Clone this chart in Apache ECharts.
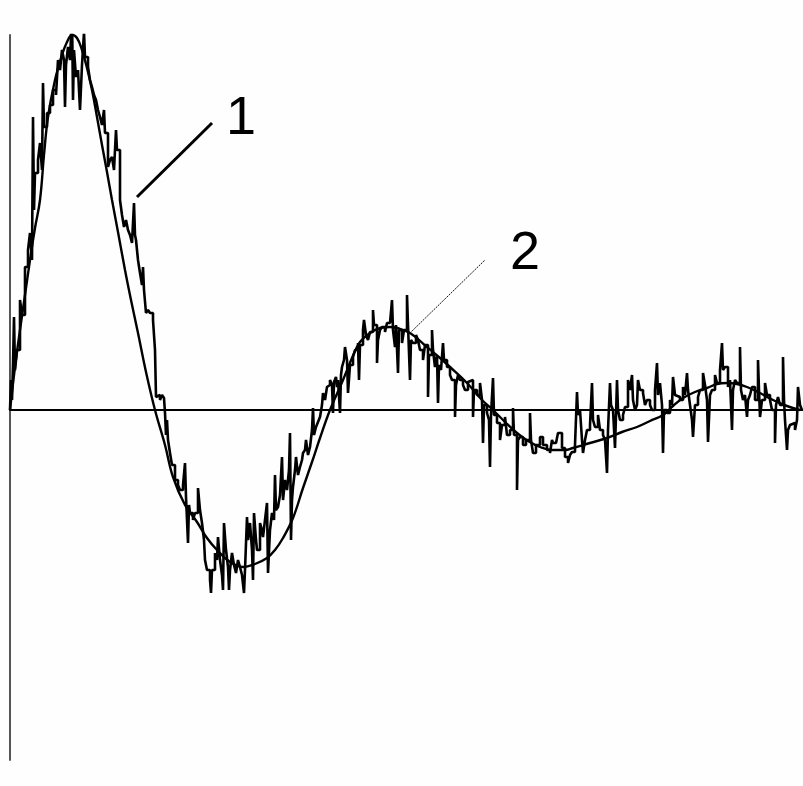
<!DOCTYPE html>
<html>
<head>
<meta charset="utf-8">
<script src="https://cdn.jsdelivr.net/npm/echarts@6/dist/echarts.min.js"></script>
<style>
html,body{margin:0;padding:0;background:#fefefe;}
#c{width:803px;height:786px;}
</style>
</head>
<body>
<div id="c"></div>
<script>
// Noisy measured signal (curve 1): [x, y]
const noisyData = [[10,0],[11,30],[12,10],[13,45],[14,93],[15,40],[17,60],[20,110],[22,95],[25,143],[28,160],[30,177],[32,150],[33,293],[34,200],[35,237],[38,250],[40,267],[42,240],[43,327],[44,283],[47,297],[50,305],[53,320],[56,315],[58,350],[60,340],[62,360],[64,350],[65,303],[66,345],[68,363],[70,350],[72,397],[73,310],[74,360],[76,333],[78,340],[80,300],[82,345],[84,378],[85,353],[88,343],[90,330],[92,323],[94,315],[96,310],[98,300],[100,293],[102,285],[104,300],[105,277],[108,243],[110,250],[112,253],[114,240],[116,280],[117,260],[120,210],[122,195],[124,183],[126,190],[128,180],[130,175],[132,167],[134,207],[135,175],[136,170],[138,150],[140,137],[142,125],[143,143],[144,120],[146,97],[148,100],[150,97],[153,90],[155,60],[156,13],[158,15],[160,10],[162,15],[164,12],[165,-3],[166,-25],[167,-10],[168,-30],[170,-43],[172,-55],[175,-70],[178,-75],[180,-80],[183,-75],[185,-53],[186,-87],[188,-133],[189,-95],[190,-103],[193,-110],[195,-103],[198,-78],[200,-100],[202,-113],[204,-130],[205,-150],[207,-160],[210,-170],[211,-183],[212,-160],[215,-143],[217,-150],[218,-127],[220,-150],[222,-165],[223,-180],[224,-113],[226,-140],[228,-157],[229,-180],[230,-160],[232,-143],[234,-155],[236,-163],[238,-150],[240,-157],[242,-165],[244,-183],[245,-160],[247,-107],[248,-130],[250,-113],[252,-140],[253,-170],[254,-103],[256,-130],[257,-140],[260,-113],[262,-120],[263,-127],[265,-110],[267,-93],[268,-163],[270,-120],[272,-103],[274,-110],[275,-65],[276,-100],[278,-97],[280,-85],[282,-47],[283,-90],[285,-70],[287,-80],[289,-60],[290,-23],[291,-130],[292,-90],[293,-77],[295,-60],[296,-47],[298,-65],[300,-57],[302,-50],[303,-43],[305,-40],[306,-30],[308,-45],[310,-37],[312,-20],[313,2],[314,-25],[316,-17],[318,-12],[320,-7],[322,5],[323,17],[325,10],[327,23],[329,25],[330,30],[332,25],[333,-3],[334,28],[336,33],[337,23],[338,30],[340,-3],[341,35],[342,43],[344,50],[345,63],[347,50],[348,17],[350,45],[353,53],[355,60],[358,67],[359,30],[360,65],[363,80],[364,90],[366,75],[368,70],[370,78],[373,100],[374,85],[377,47],[378,70],[380,80],[382,83],[385,78],[387,87],[390,85],[392,110],[393,80],[395,63],[396,85],[398,37],[399,80],[402,67],[404,80],[407,115],[408,85],[410,30],[411,70],[413,67],[416,75],[418,70],[420,60],[423,50],[425,65],[428,13],[429,55],[432,80],[433,60],[435,43],[437,55],[438,7],[439,45],[441,40],[443,67],[444,50],[447,43],[450,35],[452,30],[455,-7],[456,25],[458,35],[460,30],[463,25],[465,20],[468,28],[470,30],[473,-7],[474,20],[477,15],[480,27],[482,10],[483,-33],[484,5],[487,-3],[489,-10],[490,-57],[491,-5],[493,32],[494,-5],[497,-13],[500,-30],[502,-15],[505,-7],[507,-25],[510,-20],[513,2],[514,-25],[517,-80],[518,-30],[520,-27],[523,-35],[526,-30],[530,-3],[531,-30],[533,-43],[536,-35],[540,-27],[543,-35],[547,-40],[550,-43],[552,-30],[553,-33],[556,-35],[558,-23],[560,-23],[562,-38],[565,-47],[568,-53],[570,-45],[572,-42],[575,-35],[577,18],[578,-5],[580,0],[582,-30],[583,-43],[585,-30],[587,-20],[590,-15],[592,27],[593,-10],[595,-17],[598,-5],[600,-20],[603,-25],[605,-30],[607,-63],[608,-20],[610,27],[611,5],[613,0],[615,-38],[616,-5],[617,30],[618,0],[620,-10],[623,-5],[625,3],[628,30],[630,20],[632,35],[633,10],[635,0],[637,5],[638,30],[640,20],[643,17],[645,5],[647,10],[650,5],[652,0],[655,20],[657,47],[658,15],[660,27],[662,5],[663,-43],[664,0],[667,-3],[670,10],[672,5],[673,33],[675,15],[677,13],[680,10],[683,23],[685,15],[687,37],[688,20],[690,5],[692,-10],[693,-27],[695,5],[698,13],[700,20],[703,37],[705,25],[707,10],[708,-32],[710,15],[712,20],[715,35],[717,27],[720,40],[722,67],[723,40],[725,43],[728,23],[730,30],[732,-20],[733,20],[735,30],[737,27],[740,63],[741,20],[743,10],[745,15],[747,-7],[748,10],[750,15],[752,23],[755,10],[758,50],[759,20],[760,-7],[762,10],[765,27],[767,15],[770,10],[772,0],[775,-33],[776,5],[778,13],[780,5],[783,53],[784,10],[785,-10],[787,-40],[788,-20],[790,-15],[792,-13],[795,-20],[797,-10],[798,23],[800,5],[802,0]];

// Fitted damped oscillation (curve 2): [x, y]
const fitData = [[10,0],[15,43],[20,80],[25,115],[30,150],[35,182],[40,210],[44,255],[48,293],[55,330],[62,355],[67,368],[72,375],[77,372],[82,360],[87,342],[92,320],[97,293],[102,265],[107,238],[112,210],[118,178],[125,140],[131,110],[138,77],[146,38],[155,0],[165,-35],[173,-67],[185,-95],[197,-112],[207,-128],[217,-140],[230,-152],[243,-157],[255,-154],[267,-148],[275,-140],[283,-128],[293,-108],[303,-78],[312,-52],[320,-28],[330,0],[343,30],[352,52],[360,68],[370,77],[380,82],[390,83],[397,82],[410,77],[427,63],[440,52],[450,43],[467,27],[482,10],[493,0],[505,-12],[517,-23],[528,-31],[540,-37],[552,-40],[565,-40],[573,-38],[590,-33],[607,-28],[622,-22],[637,-17],[650,-11],[663,-5],[673,4],[683,12],[695,18],[707,22],[717,26],[727,27],[737,26],[747,23],[760,17],[773,10],[787,4],[800,0]];

// Curve labels and their leader lines (start point on curve, end near label)
const curveLabels = ['1', '2'];
const leader1 = [[137, 213], [212, 287]];
const leader2 = [[410, 77], [485, 150]];

const chart = echarts.init(document.getElementById('c'), null, {renderer: 'canvas'});
const option = {
  animation: false,
  backgroundColor: '#fefefe',
  grid: {left: 10, right: 0, top: 35, bottom: 26, containLabel: false},
  xAxis: {
    type: 'value', min: 10, max: 803,
    axisLine: {show: true, onZero: true, lineStyle: {color: '#000', width: 2}},
    axisTick: {show: false}, axisLabel: {show: false}, splitLine: {show: false}
  },
  yAxis: {
    type: 'value', min: -350, max: 375,
    axisLine: {show: true, onZero: false, lineStyle: {color: '#555', width: 2}},
    axisTick: {show: false}, axisLabel: {show: false}, splitLine: {show: false}
  },
  series: [
    {
      type: 'line', name: 'fit', data: fitData, smooth: 0.4, showSymbol: false,
      lineStyle: {color: '#000', width: 2.4}, z: 3,
      markLine: {
        silent: true, symbol: ['none', 'none'],
        label: {show: false},
        data: [
          [{coord: leader1[0], lineStyle: {color: '#000', width: 3, type: 'solid'}}, {coord: leader1[1]}],
          [{coord: leader2[0], lineStyle: {color: '#111', width: 1, type: [2, 1]}}, {coord: leader2[1]}]
        ]
      }
    },
    {
      type: 'line', name: 'signal', data: noisyData, step: 'end', showSymbol: false,
      lineStyle: {color: '#000', width: 2.6}, z: 4
    }
  ]
};
chart.setOption(option);

const p1 = chart.convertToPixel({gridIndex: 0}, leader1[1]);
const p2 = chart.convertToPixel({gridIndex: 0}, leader2[1]);
chart.setOption({
  graphic: [
    {type: 'text', x: p1[0] + 29, y: p1[1] - 4, style: {text: curveLabels[0], font: '54px "Liberation Sans", Arial, sans-serif', fill: '#000', textAlign: 'center', textVerticalAlign: 'middle'}},
    {type: 'text', x: p2[0] + 40, y: p2[1] - 6, style: {text: curveLabels[1], font: '54px "Liberation Sans", Arial, sans-serif', fill: '#000', textAlign: 'center', textVerticalAlign: 'middle'}}
  ]
});
</script>
</body>
</html>
